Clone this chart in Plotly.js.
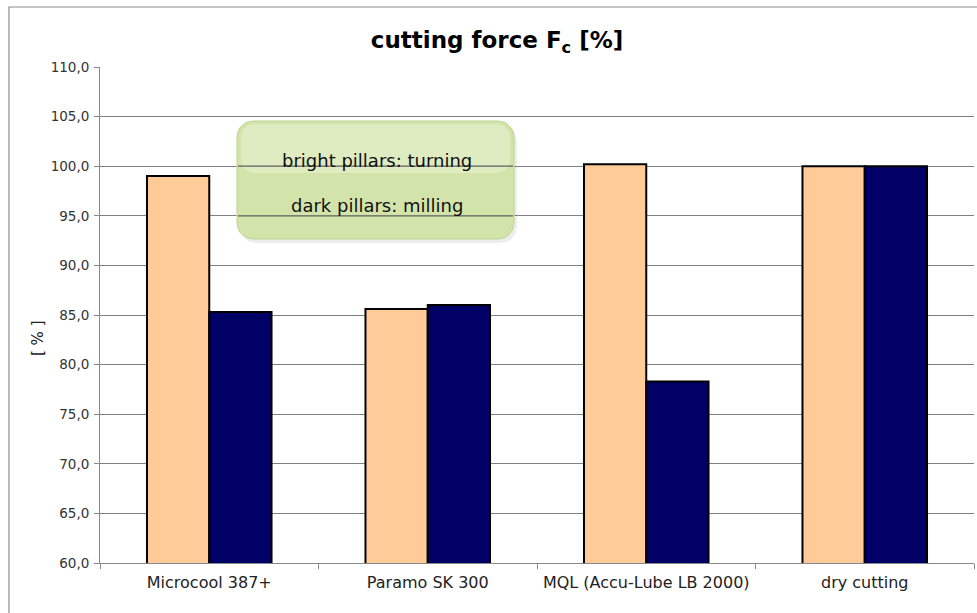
<!DOCTYPE html>
<html>
<head>
<meta charset="utf-8">
<script src="https://cdn.plot.ly/plotly-3.0.1.min.js"></script>
<style>
html,body{margin:0;padding:0;background:#fff;}
#chart{width:977px;height:613px;}
</style>
</head>
<body>
<div id="chart"></div>
<script>
var categories = ["Microcool 387+", "Paramo SK 300", "MQL (Accu-Lube LB 2000)", "dry cutting"];
var turning = [99.0, 85.6, 100.2, 100.0];
var milling = [85.3, 86.0, 78.3, 100.0];
var yTickVals = [60, 65, 70, 75, 80, 85, 90, 95, 100, 105, 110];
var yTickText = ["60,0", "65,0", "70,0", "75,0", "80,0", "85,0", "90,0", "95,0", "100,0", "105,0", "110,0"];
var noteLines = ["bright pillars: turning", "dark pillars: milling"];
var titleText = "cutting force F<sub>c</sub> [%]";
var yTitle = "[ % ]";

var W = 977, H = 613;
var mL = 100, mR = 3, mT = 67, mB = 50;
var pw = W - mL - mR, ph = H - mT - mB;
var yMin = 60, yMax = 110;
function px(x){ return (x - mL) / pw; }
function py(y){ return (H - mB - y) / ph; }
function yv(y){ return yMin + (H - mB - y) / ph * (yMax - yMin); }

function roundPoly(x0, y0, x1, y1, r){
  var xs = [], ys = [];
  var c = [[x1 - r, y0 + r, -90], [x1 - r, y1 - r, 0], [x0 + r, y1 - r, 90], [x0 + r, y0 + r, 180]];
  c.forEach(function(k){
    for (var i = 0; i <= 8; i++) {
      var a = (k[2] + i * 90 / 8) * Math.PI / 180;
      xs.push(px(k[0] + r * Math.cos(a)));
      ys.push(yv(k[1] + r * Math.sin(a)));
    }
  });
  xs.push(xs[0]); ys.push(ys[0]);
  return {x: xs, y: ys};
}

var FONT = "DejaVu Sans";
var box = {x0: 237, y0: 121, x1: 514, y1: 239};

var traces = [
  {type:"bar", x:categories, y:turning, name:"turning",
   marker:{color:"#FFCC99", line:{color:"#000000", width:2}}},
  {type:"bar", x:categories, y:milling, name:"milling",
   marker:{color:"#000066", line:{color:"#000000", width:2}}}
];

var shadow = roundPoly(box.x0 + 3, box.y0 + 4, box.x1 + 3, box.y1 + 4, 16);
var boxPoly = roundPoly(box.x0, box.y0, box.x1, box.y1, 16);
var hiPoly = roundPoly(box.x0 + 4, box.y0 + 3, box.x1 - 4, box.y0 + 52, 13);
traces.push({type: "scatter", mode: "lines", x: shadow.x, y: shadow.y, xaxis: "x2", yaxis: "y",
             fill: "toself", fillcolor: "rgba(0,0,0,0.07)", line: {width: 0, color: "rgba(0,0,0,0)"},
             hoverinfo: "skip", showlegend: false});
traces.push({type: "scatter", mode: "lines", x: boxPoly.x, y: boxPoly.y, xaxis: "x2", yaxis: "y",
             fill: "toself", fillcolor: "#D3E4AA", line: {width: 1, color: "#BCD48E"},
             hoverinfo: "skip", showlegend: false});
traces.push({type: "scatter", mode: "lines", x: hiPoly.x, y: hiPoly.y, xaxis: "x2", yaxis: "y",
             fill: "toself", fillcolor: "rgba(255,255,255,0.28)", line: {width: 0, color: "rgba(0,0,0,0)"},
             hoverinfo: "skip", showlegend: false});

// gridlines visible through the note box, one trace per gridline
yTickVals.forEach(function(v){
  var ypix = H - mB - (v - yMin) / (yMax - yMin) * ph;
  if (ypix > box.y0 && ypix < box.y1) {
    traces.push({type: "scatter", mode: "lines", x: [px(box.x0 + 1), px(box.x1 - 1)], y: [v, v],
                 xaxis: "x2", yaxis: "y", line: {color: "#5e5e5e", width: 1.2},
                 hoverinfo: "skip", showlegend: false});
  }
});

var shapes = [
  {type: "rect", xref: "paper", yref: "paper",
   x0: px(9), x1: px(990), y0: py(7), y1: py(640),
   line: {color: "#8a8a8a", width: 1.2}, fillcolor: "rgba(0,0,0,0)", layer: "below"}
];

var layout = {
  width: W, height: H,
  margin: {l:mL, r:mR, t:mT, b:mB, pad:0},
  paper_bgcolor: "#ffffff",
  plot_bgcolor: "rgba(0,0,0,0)",
  showlegend: false,
  barmode: "group",
  bargap: 0.43,
  bargroupgap: 0,
  font: {family: FONT, color: "#222"},
  title: {text: titleText, x: px(497), xref: "paper", xanchor: "center", y: 1 - 40/H, yref: "container", yanchor: "middle",
          font: {size: 23, family: FONT, color: "#000", weight: "bold"}},
  xaxis: {type: "category", showgrid: false, showline: true, linecolor: "#888", linewidth: 1,
          ticks: "outside", ticklen: 5, tickcolor: "#888", tickson: "boundaries", ticklabelstandoff: 5,
          tickfont: {size: 16, family: FONT, color: "#222"}, fixedrange: true},
  xaxis2: {overlaying: "x", range: [0, 1], visible: false, showgrid: false, zeroline: false, fixedrange: true},
  yaxis: {range: [yMin, yMax], tickvals: yTickVals, ticktext: yTickText, showgrid: true,
          gridcolor: "#808080", gridwidth: 1, showline: true, linecolor: "#888", linewidth: 1,
          ticks: "outside", ticklen: 5, tickcolor: "#888", zeroline: false, ticklabelstandoff: 2,
          tickfont: {size: 13.5, family: FONT, color: "#333"}, fixedrange: true},
  shapes: shapes,
  annotations: [
    {xref: "paper", yref: "paper", x: px(377), y: py(160), text: noteLines[0], showarrow: false,
     font: {size: 18, family: FONT, color: "#111"}, xanchor: "center", yanchor: "middle"},
    {xref: "paper", yref: "paper", x: px(377), y: py(205), text: noteLines[1], showarrow: false,
     font: {size: 18, family: FONT, color: "#111"}, xanchor: "center", yanchor: "middle"},
    {xref: "paper", yref: "paper", x: px(38), y: py(338), text: yTitle, showarrow: false,
     textangle: -90, font: {size: 15, family: FONT, color: "#222"}, xanchor: "center", yanchor: "middle"}
  ]
};

Plotly.newPlot("chart", traces, layout, {displayModeBar: false, staticPlot: true});
</script>
</body>
</html>
